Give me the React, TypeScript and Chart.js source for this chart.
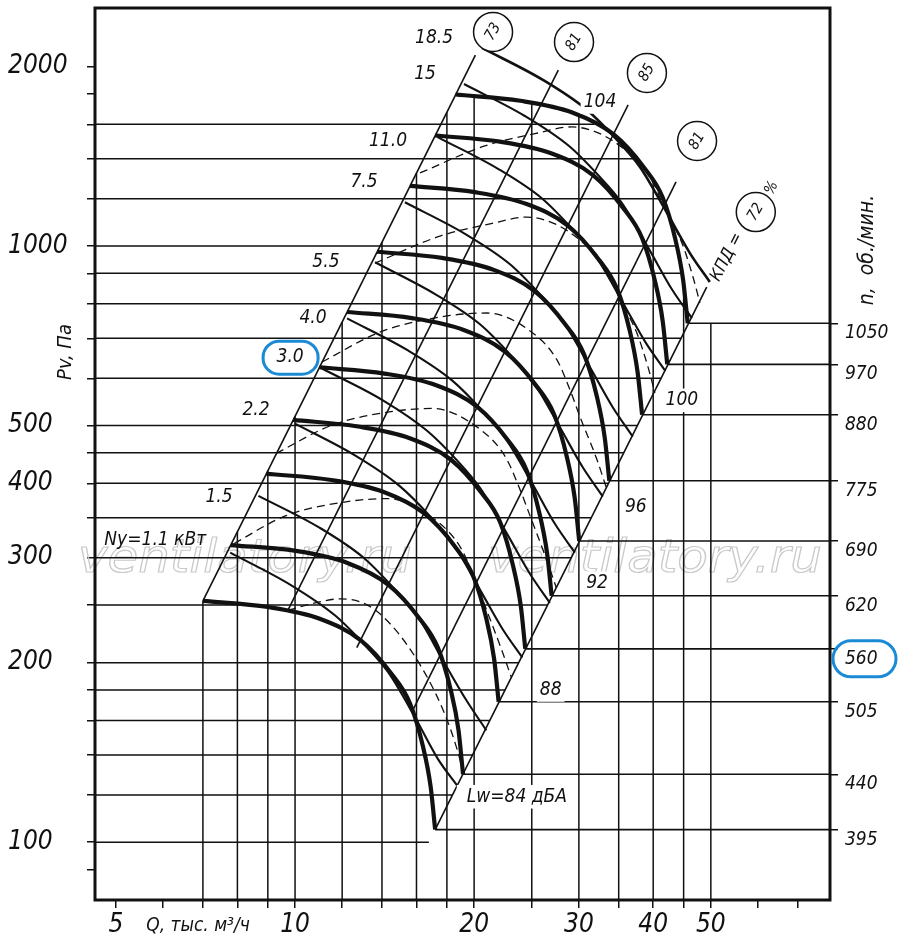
import React, { useEffect, useRef } from "react";
import { Chart, registerables } from "chart.js";

Chart.register(...registerables);

const FONT = "'DejaVu Sans Condensed', 'DejaVu Sans', sans-serif";

// ---------- axes ----------
const qRange = [4.61, 79.3];
const pRange = [80, 2507];
const xTickValues = [5, 6, 7, 8, 9, 10, 12, 14, 16, 18, 20, 25, 30, 35, 40, 45, 50, 60, 70];
const xTickLabels = [5, 10, 20, 30, 40, 50];
const yTickValues = [90, 100, 120, 140, 160, 180, 200, 250, 300, 350, 400, 450, 500, 600, 700, 800, 900, 1000, 1200, 1400, 1600, 1800, 2000];
const yTickLabels = [100, 200, 300, 400, 500, 1000, 2000];
const gridQ = [7, 8, 9, 10, 12, 14, 16, 18, 20, 25, 30, 35, 40, 45, 50];
const gridP = [100, 120, 140, 160, 180, 200, 250, 300, 350, 400, 450, 500, 600, 700, 800, 900, 1000, 1200, 1400, 1600];

// ---------- fan curves Pv(Q) for each speed n ----------
const speeds = [1050, 970, 880, 775, 690, 620, 560, 505, 440, 395];
const curveQ = [
  [18.61, 23.92, 29.24, 34.29, 38.54, 41.47, 43.59, 44.92, 45.72],
  [17.19, 22.1, 27.01, 31.68, 35.61, 38.31, 40.27, 41.5, 42.24],
  [15.59, 20.05, 24.51, 28.74, 32.3, 34.75, 36.54, 37.65, 38.32],
  [13.73, 17.66, 21.58, 25.31, 28.45, 30.61, 32.18, 33.16, 33.75],
  [12.23, 15.72, 19.21, 22.53, 25.33, 27.25, 28.65, 29.52, 30.04],
  [10.99, 14.13, 17.27, 20.25, 22.76, 24.49, 25.74, 26.53, 27.0],
  [9.92, 12.76, 15.59, 18.29, 20.56, 22.12, 23.25, 23.96, 24.38],
  [8.95, 11.51, 14.06, 16.49, 18.54, 19.94, 20.97, 21.61, 21.99],
  [7.8, 10.03, 12.25, 14.37, 16.15, 17.38, 18.27, 18.83, 19.16],
  [7.0, 9.0, 11.0, 12.9, 14.5, 15.6, 16.4, 16.9, 17.2],
];
const curveP = [
  [1795, 1752, 1675, 1540, 1357, 1208, 1025, 876, 742],
  [1532, 1496, 1429, 1315, 1158, 1031, 874, 748, 633],
  [1261, 1231, 1176, 1082, 953, 849, 720, 615, 521],
  [978, 955, 912, 839, 739, 658, 558, 477, 404],
  [775, 757, 723, 665, 586, 522, 442, 378, 320],
  [626, 611, 584, 537, 473, 421, 357, 305, 259],
  [511, 498, 476, 438, 386, 344, 291, 249, 211],
  [415, 405, 387, 356, 314, 279, 237, 203, 172],
  [315, 308, 294, 270, 238, 212, 180, 154, 130],
  [254, 248, 237, 218, 192, 171, 145, 124, 105],
];

// ---------- motor power lines Ny ----------
const powerLabels = ["18.5", "15", "11.0", "7.5", "5.5", "4.0", "3.0", "2.2", "1.5", "Ny=1.1 кВт"];
const powerQ = [
  [20.62, 26.1, 30.96, 34.77, 38.0, 42.2, 46.1, 49.8],
  [19.23, 24.34, 28.88, 32.43, 35.44, 39.36, 43.0, 46.45],
  [17.36, 21.97, 26.07, 29.27, 31.99, 35.53, 38.81, 41.93],
  [15.3, 19.37, 22.98, 25.81, 28.2, 31.32, 34.22, 36.96],
  [13.63, 17.25, 20.46, 22.98, 25.11, 27.89, 30.47, 32.91],
  [12.23, 15.48, 18.36, 20.62, 22.54, 25.03, 27.34, 29.54],
  [11.1, 14.05, 16.67, 18.72, 20.46, 22.72, 24.82, 26.81],
  [9.98, 12.63, 14.98, 16.83, 18.39, 20.42, 22.31, 24.1],
  [8.68, 10.99, 13.04, 14.64, 16.0, 17.77, 19.41, 20.97],
  [7.78, 9.84, 11.68, 13.11, 14.33, 15.91, 17.38, 18.78],
];
const powerP = [
  [2149, 1899, 1691, 1506, 1357, 1136, 973, 870],
  [1869, 1652, 1471, 1310, 1180, 988, 846, 757],
  [1523, 1346, 1199, 1067, 962, 805, 690, 617],
  [1184, 1046, 932, 830, 748, 626, 536, 479],
  [939, 829, 739, 658, 593, 496, 425, 380],
  [756, 668, 595, 530, 477, 400, 342, 306],
  [623, 551, 490, 437, 393, 329, 282, 252],
  [504, 445, 396, 353, 318, 266, 228, 204],
  [381, 337, 300, 267, 241, 201, 173, 154],
  [306, 270, 240, 214, 193, 162, 138, 124],
];
const powerLabelQ = [17.13, 16.54, 14.33, 13.06, 11.27, 10.72, 9.81, 8.6, 7.45, 5.82];
const powerLabelP = [2234, 1944, 1500, 1281, 940, 757, 651, 530, 379, 321];

// ---------- dashed curves ----------
const dashQ = [
  [16.22, 20.85, 25.31, 29.2, 32.55, 35.85, 39.19, 42.17, 44.7, 46.65, 47.92],
  [13.63, 17.52, 21.27, 24.54, 27.35, 30.13, 32.93, 35.44, 37.56, 39.2, 40.27],
  [11.1, 13.89, 17.52, 21.02, 25.12, 27.56, 29.0, 30.13, 32.18, 33.45],
  [9.3, 11.5, 14.4, 17.0, 20.5, 22.6, 23.8, 24.8, 26.4, 27.5],
  [7.9, 9.66, 12.1, 14.28, 17.22, 18.98, 20.0, 20.83, 22.18, 23.1],
  [9.73, 11.0, 11.9, 13.0, 14.06, 15.9, 17.72, 18.73, 19.17],
];
const dashP = [
  [1326, 1472, 1543, 1584, 1543, 1450, 1326, 1136, 1012, 888, 803],
  [936, 1039, 1089, 1118, 1089, 1023, 936, 802, 714, 627, 567],
  [639, 717, 760, 772, 714, 644, 573, 517, 438, 390],
  [449, 500, 527, 534, 492, 442, 394, 354, 300, 267],
  [317, 353, 372, 377, 347, 312, 278, 250, 212, 189],
  [245, 253, 256, 252, 239, 205, 167, 143, 131],
];

// ---------- efficiency rays (КПД) ----------
const effLabels = ["73", "81", "85", "81", "72"];
const rayQ = [[7.0, 20.1], [9.73, 27.7], [12.7, 36.3], [15.7, 43.7], [17.2, 49.2]];
const rayP = [[254, 2090], [245, 1972], [212, 1724], [165, 1281], [105, 853]];
const effCircleQ = [21.52, 29.44, 39.04, 47.4, 59.5];
const effCircleP = [2286, 2198, 1951, 1500, 1140];
const kpdPos = [53.2, 958];
const pctPos = [63.3, 1251];

// ---------- sound power levels ----------
const soundLabels = ["104", "100", "96", "92", "88", "Lw=84 дБА"];
const soundQ = [32.55, 44.7, 37.4, 32.18, 26.9, 23.6];
const soundP = [1744, 551, 365, 272, 180, 119.2];

const last = (a: number[]) => a[a.length - 1];

function logInterp(xs: number[], ys: number[], x: number): number {
  let i = 0;
  while (i < xs.length - 2 && x > xs[i + 1]) i++;
  const t = (Math.log(x) - Math.log(xs[i])) / (Math.log(xs[i + 1]) - Math.log(xs[i]));
  return Math.exp(Math.log(ys[i]) + t * (Math.log(ys[i + 1]) - Math.log(ys[i])));
}

function verticalTop(q: number): number {
  const top = curveQ[0];
  if (q <= top[0]) return logInterp(rayQ[0], rayP[0], q);
  if (q <= last(top)) return logInterp(curveQ[0], curveP[0], q);
  return last(curveP[0]);
}

function horizontalEnd(p: number): number {
  if (p <= last(curveP[0])) return logInterp(rayP[4], rayQ[4], p);
  const pr = [...curveP[0]].reverse();
  const qr = [...curveQ[0]].reverse();
  return logInterp(pr, qr, p);
}

function drawText(ctx: any, s: string, x: number, y: number, size: number, rot = 0, bgPad = -1, align = "center") {
  ctx.save();
  ctx.translate(x, y);
  if (rot) ctx.rotate(rot);
  ctx.font = `italic ${size}px ${FONT}`;
  ctx.textAlign = align;
  ctx.textBaseline = "middle";
  if (bgPad >= 0) {
    const w = ctx.measureText(s).width;
    ctx.fillStyle = "#fff";
    ctx.fillRect(-w / 2 - bgPad, -size * 0.62, w + 2 * bgPad, size * 1.24);
  }
  ctx.fillStyle = "#111";
  ctx.fillText(s, 0, 0);
  ctx.restore();
}

const decorPlugin = {
  id: "decor",
  beforeDatasetsDraw(chart: any) {
    const { ctx } = chart;
    ctx.save();
    ctx.font = `italic 46px 'DejaVu Sans', sans-serif`;
    ctx.strokeStyle = "#c9c9c9";
    ctx.lineWidth = 1.2;
    const wm = "ventilatory.ru";
    const mw = ctx.measureText(wm).width;
    for (const x0 of [78, 488]) {
      ctx.save();
      ctx.translate(x0, 572);
      ctx.scale(334 / mw, 1);
      ctx.strokeText(wm, 0, 0);
      ctx.restore();
    }
    ctx.restore();
  },
  afterDatasetsDraw(chart: any) {
    const { ctx, scales } = chart;
    const X = (q: number) => scales.x.getPixelForValue(q);
    const Y = (p: number) => scales.y.getPixelForValue(p);
    effLabels.forEach((t, i) => drawText(ctx, t, X(effCircleQ[i]), Y(effCircleP[i]), 15, -Math.PI / 3));
    drawText(ctx, "КПД =", X(kpdPos[0]), Y(kpdPos[1]), 17, -1.1);
    drawText(ctx, "%", X(pctPos[0]), Y(pctPos[1]), 15, -1.1);
    powerLabels.forEach((t, i) => drawText(ctx, t, X(powerLabelQ[i]), Y(powerLabelP[i]), 19));
    soundLabels.forEach((t, i) =>
      drawText(ctx, t, X(soundQ[i]), Y(soundP[i]), 19, 0, i === soundLabels.length - 1 ? 10 : 3)
    );
  },
  afterDraw(chart: any) {
    const { ctx, chartArea: a, scales } = chart;
    const X = (q: number) => scales.x.getPixelForValue(q);
    const Y = (p: number) => scales.y.getPixelForValue(p);
    ctx.save();
    ctx.strokeStyle = "#111";
    ctx.lineWidth = 3;
    ctx.strokeRect(a.left, a.top, a.right - a.left, a.bottom - a.top);
    ctx.restore();
    speeds.forEach((n, i) => drawText(ctx, String(n), a.right + 15, Y(last(curveP[i])) + 10, 19, 0, -1, "left"));
    drawText(ctx, "Pv, Па", 66, 352, 20, -Math.PI / 2);
    drawText(ctx, "n,  об./мин.", 868, 250, 21, -Math.PI / 2);
    drawText(ctx, "Q, тыс. м³/ч", 198, 926, 19);
    ctx.save();
    ctx.strokeStyle = "#1a8ad4";
    ctx.lineWidth = 3;
    const i30 = powerLabels.indexOf("3.0");
    const bx = X(powerLabelQ[i30]);
    const by = Y(powerLabelP[i30]);
    ctx.beginPath();
    ctx.roundRect(bx - 27, by - 16, 55, 33, 16);
    ctx.stroke();
    const i560 = speeds.indexOf(560);
    const ry = Y(last(curveP[i560])) + 10;
    ctx.beginPath();
    ctx.roundRect(a.right + 3, ry - 18, 63, 36, 18);
    ctx.stroke();
    ctx.restore();
  },
};

export default function App() {
  const ref = useRef<HTMLCanvasElement>(null);
  useEffect(() => {
    const canvas = ref.current;
    if (!canvas) return;
    const pts = (qs: number[], ps: number[]) => qs.map((q, i) => ({ x: q, y: ps[i] }));
    const base = (data: any[], extra: any) => ({
      data,
      showLine: true,
      pointRadius: 0,
      pointHoverRadius: 0,
      borderColor: "#111",
      borderWidth: 1.5,
      tension: 0,
      fill: false,
      ...extra,
    });
    const datasets: any[] = [];
    gridQ.forEach((q) =>
      datasets.push(base([{ x: q, y: pRange[0] }, { x: q, y: verticalTop(q) }], { order: 10, borderWidth: 1.5 }))
    );
    gridP.forEach((p) =>
      datasets.push(base([{ x: qRange[0], y: p }, { x: horizontalEnd(p), y: p }], { order: 10, borderWidth: 1.5 }))
    );
    curveQ.forEach((qs, i) =>
      datasets.push(
        base([{ x: last(qs), y: last(curveP[i]) }, { x: qRange[1], y: last(curveP[i]) }], { order: 9, borderWidth: 1.6 })
      )
    );
    rayQ.forEach((qs, i) => datasets.push(base(pts(qs, rayP[i]), { order: 8, borderWidth: 1.6 })));
    dashQ.forEach((qs, i) =>
      datasets.push(
        base(pts(qs, dashP[i]), {
          order: 7,
          borderWidth: 1.3,
          borderDash: [8, 5],
          tension: 0.4,
          cubicInterpolationMode: "monotone",
        })
      )
    );
    powerQ.forEach((qs, i) =>
      datasets.push(
        base(pts(qs, powerP[i]), {
          order: 6,
          borderWidth: i === 0 ? 2.6 : 2.1,
          tension: 0.4,
          cubicInterpolationMode: "monotone",
        })
      )
    );
    curveQ.forEach((qs, i) =>
      datasets.push(
        base(pts(qs, curveP[i]), { order: 5, borderWidth: 4.2, tension: 0.4, cubicInterpolationMode: "monotone" })
      )
    );
    datasets.push({
      data: pts(effCircleQ, effCircleP),
      showLine: false,
      pointRadius: 19.5,
      pointHoverRadius: 19.5,
      pointBackgroundColor: "#fff",
      pointBorderColor: "#111",
      pointBorderWidth: 1.5,
      order: 1,
    });

    const tickFont = (size: number) => ({ family: FONT, size, style: "italic" as const });
    const fitY = (w: number) => (s: any) => {
      s.width = w;
      s.paddingTop = 0;
      s.paddingBottom = 0;
    };
    const chart = new Chart(canvas, {
      type: "scatter",
      data: { datasets },
      plugins: [decorPlugin as any],
      options: {
        animation: false,
        responsive: true,
        maintainAspectRatio: false,
        events: [],
        layout: { autoPadding: false, padding: { left: 8, top: 8, right: 0, bottom: 0 } },
        plugins: { legend: { display: false }, tooltip: { enabled: false } },
        scales: {
          x: {
            type: "logarithmic",
            position: "bottom",
            min: qRange[0],
            max: qRange[1],
            afterBuildTicks: (s: any) => {
              s.ticks = xTickValues.map((v) => ({ value: v }));
            },
            afterFit: (s: any) => {
              s.height = 50;
              s.paddingLeft = 0;
              s.paddingRight = 0;
            },
            ticks: {
              autoSkip: false,
              maxRotation: 0,
              minRotation: 0,
              padding: 2,
              color: "#111",
              font: tickFont(26),
              callback: (v: any) => (xTickLabels.includes(Number(v)) ? String(v) : ""),
            },
            grid: { drawOnChartArea: false, drawTicks: true, tickLength: 8, color: "#111", lineWidth: 1.5 },
            border: { display: false },
          },
          y: {
            type: "logarithmic",
            position: "left",
            min: pRange[0],
            max: pRange[1],
            afterBuildTicks: (s: any) => {
              s.ticks = yTickValues.map((v) => ({ value: v }));
            },
            afterFit: fitY(87),
            ticks: {
              autoSkip: false,
              crossAlign: "far",
              color: "#111",
              font: tickFont(26),
              callback: (v: any) => (yTickLabels.includes(Number(v)) ? String(v) : ""),
            },
            grid: { drawOnChartArea: false, drawTicks: true, tickLength: 8, color: "#111", lineWidth: 1.5 },
            border: { display: false },
          },
          yR: {
            type: "logarithmic",
            axis: "y",
            position: "right",
            min: pRange[0],
            max: pRange[1],
            afterBuildTicks: (s: any) => {
              s.ticks = curveP.map((ps) => ({ value: last(ps) }));
            },
            afterFit: fitY(70),
            ticks: { autoSkip: false, color: "#111", font: tickFont(19), callback: () => "" },
            grid: { drawOnChartArea: false, drawTicks: true, tickLength: 8, color: "#111", lineWidth: 1.5 },
            border: { display: false },
          },
        },
      } as any,
    });
    return () => chart.destroy();
  }, []);
  return (
    <div style={{ position: "fixed", left: 0, top: 0, width: 900, height: 950, background: "#fff" }}>
      <canvas ref={ref} />
    </div>
  );
}
